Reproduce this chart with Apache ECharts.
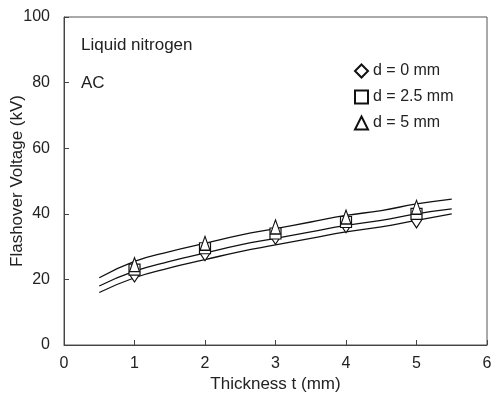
<!DOCTYPE html>
<html><head><meta charset="utf-8">
<script src="https://cdn.jsdelivr.net/npm/echarts@6/dist/echarts.min.js"></script>
<style>html,body{margin:0;padding:0;background:#fff}#c{width:495px;height:400px}</style>
</head><body><div id="c"></div>
<script>
var thickness = [1, 2, 3, 4, 5];
var d0 = [21.5, 28, 33, 36.5, 38];
var d25 = [23, 29.5, 34, 37.5, 40];
var d5 = [24.5, 31, 36, 39, 42];
var fitT = [0.5, 1, 1.5, 2, 2.5, 3, 3.5, 4, 4.5, 5, 5.5];
var fitUpper = [20.5, 25.5, 28.5, 31, 33.5, 35.5, 37.5, 39.5, 41, 43, 44.5];
var fitMiddle = [18, 22.5, 25.5, 28, 30.5, 32.5, 34.5, 36.5, 38, 40, 41.5];
var fitLower = [16, 20.5, 23.5, 26, 28.5, 30.5, 32.5, 34.5, 36, 38, 40];
var xTicks = [0, 1, 2, 3, 4, 5, 6];
var yTicks = [0, 20, 40, 60, 80, 100];

function pairs(xs, ys){ return xs.map(function(x,i){ return [x, ys[i]]; }); }
var font = 'Liberation Sans';
var fs = 16;
function lineSeries(name, ys){
  return {name:name, type:'line', data:pairs(fitT, ys), smooth:true, symbol:'none',
    lineStyle:{color:'#111', width:1.3}, z:2, silent:true};
}
function scat(name, ys, sym, size){
  return {name:name, type:'scatter', data:pairs(thickness, ys), symbol:sym, symbolSize:size,
    itemStyle:{color:'#fff', borderColor:'#111', borderWidth:1.2, opacity:1}, z:3};
}
var chart = echarts.init(document.getElementById('c'));
chart.setOption({
  animation:false,
  textStyle:{fontFamily:font},
  grid:{left:64, right:8, top:17, bottom:55, show:true, borderColor:'#555', borderWidth:1,
    containLabel:false, outerBoundsMode:'none'},
  xAxis:{type:'value', min:0, max:6, interval:1,
    name:'Thickness t (mm)', nameLocation:'middle', nameGap:31, nameMoveOverlap:false,
    nameTextStyle:{fontSize:17, color:'#222', fontFamily:font},
    axisLine:{lineStyle:{color:'#444'}},
    axisTick:{inside:true, length:5, lineStyle:{color:'#444'}},
    axisLabel:{fontSize:fs, color:'#222', margin:11, fontFamily:font},
    splitLine:{show:false}},
  yAxis:{type:'value', min:0, max:100, interval:20,
    name:'Flashover Voltage (kV)', nameLocation:'middle', nameGap:38, nameMoveOverlap:false,
    nameTextStyle:{fontSize:17, color:'#222', fontFamily:font},
    axisLine:{lineStyle:{color:'#444'}},
    axisTick:{inside:true, length:5, lineStyle:{color:'#444'}},
    axisLabel:{fontSize:fs, color:'#222', margin:14, fontFamily:font},
    splitLine:{show:false}},
  legend:{orient:'vertical', left:349, top:58, itemGap:10, itemWidth:13, itemHeight:13,
    textStyle:{fontSize:fs, color:'#222', fontFamily:font},
    data:['d = 0 mm','d = 2.5 mm','d = 5 mm']},
  graphic:[
    {type:'text', left:81, top:37, style:{text:'Liquid nitrogen', font:'17px '+font, fill:'#222'}},
    {type:'text', left:81, top:75, style:{text:'AC', font:'17px '+font, fill:'#222'}}
  ],
  series:[
    lineSeries('fitU', fitUpper),
    lineSeries('fitM', fitMiddle),
    lineSeries('fitL', fitLower),
    scat('d = 0 mm', d0, 'diamond', [10,15]),
    scat('d = 2.5 mm', d25, 'rect', [11,11]),
    scat('d = 5 mm', d5, 'triangle', [10,14])
  ]
});
</script></body></html>
